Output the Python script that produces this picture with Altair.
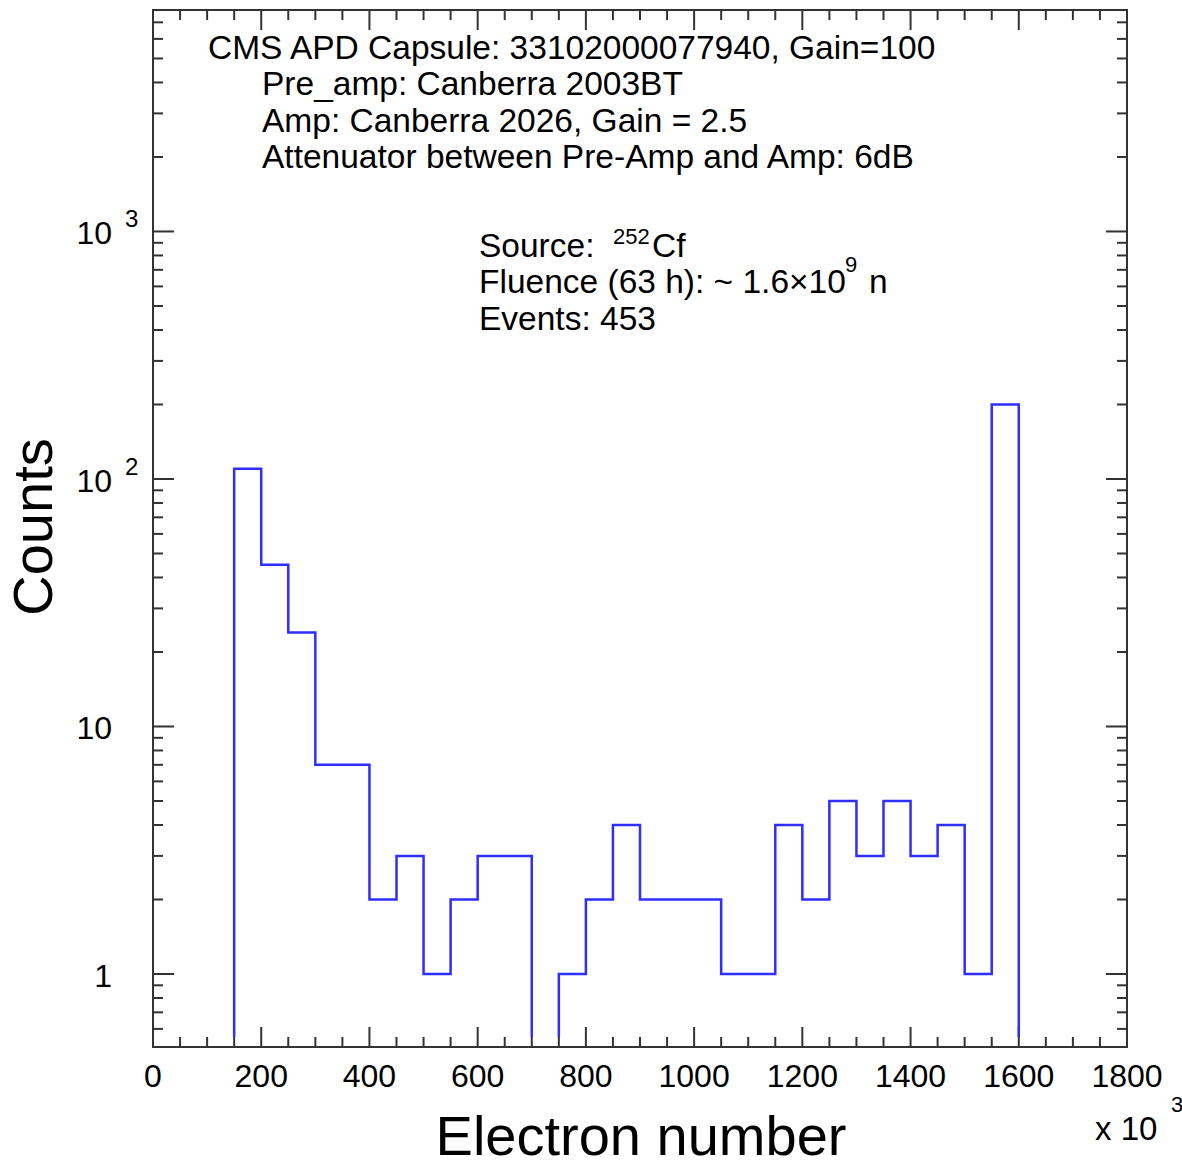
import altair as alt
import pandas as pd

# ---- data ----
bin_left = [150, 200, 250, 300, 350, 400, 450, 500, 550, 600, 650, 700, 750, 800,
            850, 900, 950, 1000, 1050, 1100, 1150, 1200, 1250, 1300, 1350, 1400,
            1450, 1500, 1550]
bin_width = 50
counts = [110, 45, 24, 7, 7, 2, 3, 1, 2, 3, 3, 0, 1, 2,
          4, 2, 2, 2, 1, 1, 4, 2, 5, 3, 5, 3,
          4, 1, 200]
floor_val = 0.556  # where the drawn outline stops above the frame

x_major = [0, 200, 400, 600, 800, 1000, 1200, 1400, 1600, 1800]
x_minor = [v for v in range(0, 1801, 50) if v % 200 != 0]
y_major = [1, 10, 100, 1000]
y_minor = [0.6, 0.7, 0.8, 0.9] + [m * d for d in (1, 10, 100) for m in range(2, 10)] + \
          [2000, 3000, 4000, 5000, 6000, 7000]
y_labels_main = ["1", "10", "10", "10"]
y_labels_sup = ["", "", "2", "3"]

W, H = 974, 1037
FONT = "Liberation Sans"
BLUE = "#2e2eff"
FRAME = "#333333"

# ---- histogram outline as broken step lines ----
rows = []
seg = 0
order = 0
open_seg = False
for left, c in zip(bin_left, counts):
    if c <= 0:
        if open_seg:
            rows.append(dict(seg=seg, o=order, x=left, y=floor_val)); order += 1
            seg += 1
            open_seg = False
        continue
    if not open_seg:
        rows.append(dict(seg=seg, o=order, x=left, y=floor_val)); order += 1
        open_seg = True
    rows.append(dict(seg=seg, o=order, x=left, y=c)); order += 1
if open_seg:
    rows.append(dict(seg=seg, o=order, x=bin_left[-1] + bin_width, y=floor_val))
hist_df = pd.DataFrame(rows)

xscale = alt.Scale(domain=[0, 1800], nice=False, zero=False)
yscale = alt.Scale(type="log", domain=[0.507, 7850], nice=False)

hist = alt.Chart(hist_df).mark_line(interpolate="step-after", color=BLUE,
                                     strokeWidth=2.5).encode(
    x=alt.X("x:Q", scale=xscale, axis=None),
    y=alt.Y("y:Q", scale=yscale, axis=None),
    detail="seg:N",
    order="o:Q",
)

def xticks(vals, length, top):
    df = pd.DataFrame({"v": vals})
    if top:
        y1, y2 = 0, length
    else:
        y1, y2 = H, H - length
    return alt.Chart(df).mark_rule(color=FRAME, strokeWidth=2).encode(
        x=alt.X("v:Q", scale=xscale, axis=None),
        y=alt.value(y1), y2=alt.value(y2))

def yticks(vals, length, right):
    df = pd.DataFrame({"v": vals})
    if right:
        x1, x2 = W, W - length
    else:
        x1, x2 = 0, length
    return alt.Chart(df).mark_rule(color=FRAME, strokeWidth=2).encode(
        y=alt.Y("v:Q", scale=yscale, axis=None),
        x=alt.value(x1), x2=alt.value(x2))

tick_layers = [
    xticks(x_major, 20, False), xticks(x_minor, 10, False),
    xticks(x_major, 20, True), xticks(x_minor, 10, True),
    yticks(y_major, 21, False), yticks(y_minor, 10, False),
    yticks(y_major, 21, True), yticks(y_minor, 10, True),
]

def frame_rule(x1, y1, x2, y2):
    return alt.Chart(pd.DataFrame({"k": [0]})).mark_rule(
        color=FRAME, strokeWidth=2, strokeCap="square").encode(
        x=alt.value(x1), y=alt.value(y1), x2=alt.value(x2), y2=alt.value(y2))

frame = [frame_rule(0, 0, W, 0), frame_rule(0, H, W, H),
         frame_rule(0, 0, 0, H), frame_rule(W, 0, W, H)]

# x tick labels
xlab = alt.Chart(pd.DataFrame({"v": x_major, "t": [str(v) for v in x_major]})).mark_text(
    font=FONT, fontSize=32, align="center", baseline="middle", color="black").encode(
    x=alt.X("v:Q", scale=xscale, axis=None), y=alt.value(H + 30), text="t:N")

# y tick labels
ylab_df = pd.DataFrame({"v": y_major, "t": y_labels_main, "s": y_labels_sup})
ylab = alt.Chart(ylab_df).mark_text(
    font=FONT, fontSize=32, align="right", baseline="middle", color="black", dy=3).encode(
    y=alt.Y("v:Q", scale=yscale, axis=None), x=alt.value(-41), text="t:N")
ysup = alt.Chart(ylab_df).mark_text(
    font=FONT, fontSize=24, align="left", baseline="middle", color="black", dy=-11).encode(
    y=alt.Y("v:Q", scale=yscale, axis=None), x=alt.value(-28), text="s:N")

def txt(s, x, y, size=33.5, align="left", baseline="alphabetic", angle=0):
    kw = dict(font=FONT, fontSize=size, align=align, baseline=baseline, color="black")
    if angle:
        kw["angle"] = angle
    return alt.Chart(pd.DataFrame({"t": [s]})).mark_text(**kw).encode(
        x=alt.value(x), y=alt.value(y), text="t:N")

annot = [
    txt("CMS APD Capsule: 33102000077940, Gain=100", 55, 49),
    txt("Pre_amp: Canberra 2003BT", 109, 85),
    txt("Amp: Canberra 2026, Gain = 2.5", 109, 122),
    txt("Attenuator between Pre-Amp and Amp: 6dB", 109, 158),
    txt("Source:", 326, 247),
    txt("252", 460, 234, size=22),
    txt("Cf", 499, 247),
    txt("Fluence (63 h): ~ 1.6\u00d710", 326, 283),
    txt("9", 692, 262, size=22),
    txt("n", 716, 283),
    txt("Events: 453", 326, 320),
    txt("Electron number", 488, 1145, size=56, align="center"),
    txt("Counts", -118, 517, size=56, align="center", baseline="middle", angle=270),
    txt("x 10", 942, 1130, size=33),
    txt("3", 1018, 1102, size=22),
]

chart = alt.layer(*tick_layers, *frame, hist, xlab, ylab, ysup, *annot).properties(
    width=W, height=H,
    autosize=alt.AutoSizeParams(type="none"),
    padding={"left": 153, "top": 10, "right": 55, "bottom": 117},
).configure_view(strokeWidth=0).configure(background="white")

chart.save("out.html", embed_options={"renderer": "svg", "actions": False})
